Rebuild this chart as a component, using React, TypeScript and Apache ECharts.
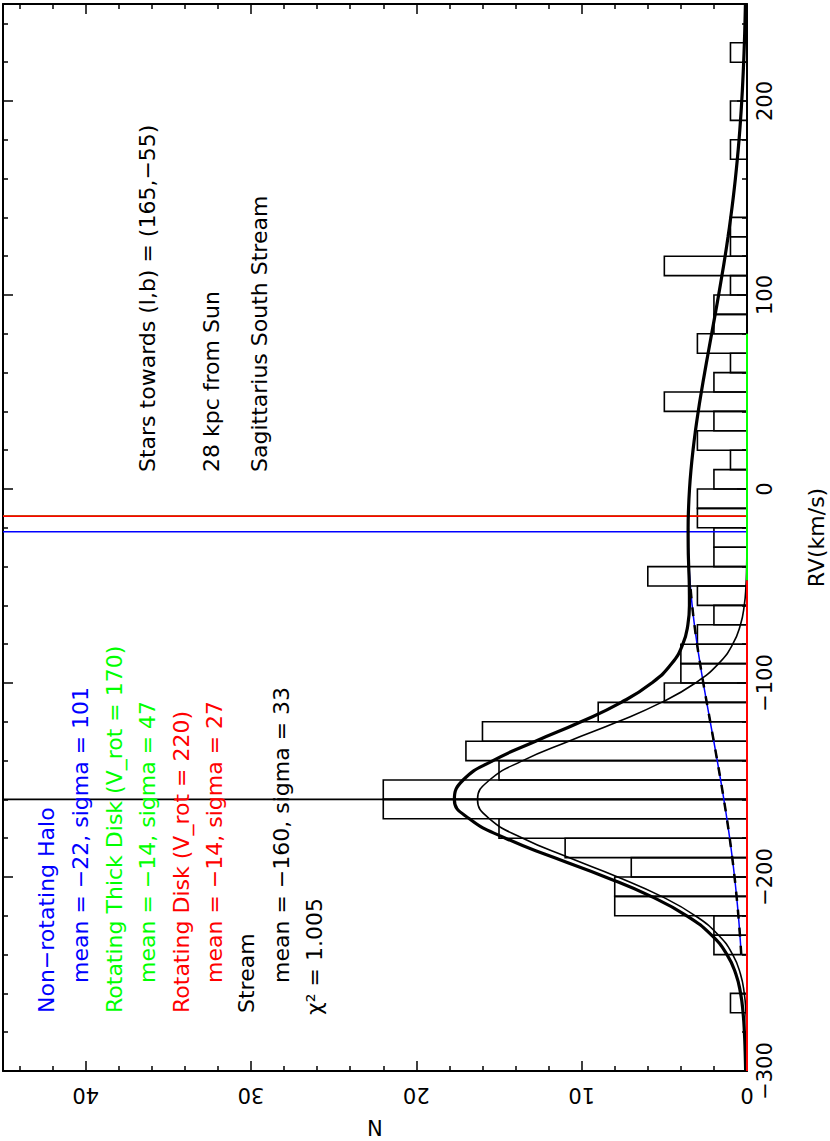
import React, { useEffect, useRef } from "react";
import * as echarts from "echarts";

// Histogram: lower edge of each 10 km/s bin, and number of stars
const binStarts = [-300, -290, -280, -270, -260, -250, -240, -230, -220, -210, -200, -190, -180, -170, -160, -150, -140, -130, -120, -110, -100, -90, -80, -70, -60, -50, -40, -30, -20, -10, 0, 10, 20, 30, 40, 50, 60, 70, 80, 90, 100, 110, 120, 130, 140, 150, 160, 170, 180, 190, 200, 210, 220, 230, 240];
const counts = [0, 0, 0, 1, 0, 0, 2, 2, 8, 8, 7, 11, 15, 22, 22, 15, 17, 16, 9, 5, 4, 4, 3, 2, 3, 6, 2, 2, 3, 3, 2, 1, 3, 2, 5, 2, 1, 3, 2, 2, 1, 5, 1, 1, 0, 0, 0, 1, 0, 1, 0, 0, 1, 0, 0];

// Model curves read at every 10 km/s
const rvGrid = [-300, -290, -280, -270, -260, -250, -240, -230, -220, -210, -200, -190, -180, -170, -160, -150, -140, -130, -120, -110, -100, -90, -80, -70, -60, -50, -40, -30, -20, -10, 0, 10, 20, 30, 40, 50, 60, 70, 80, 90, 100, 110, 120, 130, 140, 150, 160, 170, 180, 190, 200, 210, 220, 230, 240, 250];
const haloN = [0.081, 0.105, 0.136, 0.175, 0.222, 0.279, 0.347, 0.427, 0.521, 0.63, 0.753, 0.893, 1.047, 1.216, 1.4, 1.595, 1.8, 2.01, 2.223, 2.435, 2.643, 2.837, 3.019, 3.18, 3.317, 3.426, 3.504, 3.549, 3.559, 3.535, 3.477, 3.386, 3.265, 3.118, 2.949, 2.761, 2.56, 2.351, 2.138, 1.925, 1.717, 1.516, 1.325, 1.147, 0.984, 0.835, 0.702, 0.585, 0.482, 0.393, 0.318, 0.255, 0.202, 0.158, 0.123, 0.095];
const streamN = [0.002, 0.007, 0.022, 0.063, 0.165, 0.396, 0.864, 1.718, 3.121, 5.172, 7.819, 10.78, 13.56, 15.57, 16.3, 15.57, 13.56, 10.78, 7.819, 5.172, 3.121, 1.718, 0.864, 0.396, 0.165, 0.063, 0.022, 0.007, 0.002, 0, 0, 0, 0, 0, 0, 0, 0, 0, 0, 0, 0, 0, 0, 0, 0, 0, 0, 0, 0, 0, 0, 0, 0, 0, 0, 0];
const totalN = [0.083, 0.112, 0.158, 0.238, 0.387, 0.675, 1.211, 2.145, 3.642, 5.802, 8.572, 11.67, 14.61, 16.79, 17.7, 17.17, 15.36, 12.79, 10.04, 7.607, 5.764, 4.555, 3.883, 3.576, 3.482, 3.489, 3.526, 3.556, 3.561, 3.535, 3.477, 3.386, 3.265, 3.118, 2.949, 2.761, 2.56, 2.351, 2.138, 1.925, 1.717, 1.516, 1.325, 1.147, 0.984, 0.835, 0.702, 0.585, 0.482, 0.393, 0.318, 0.255, 0.202, 0.158, 0.123, 0.095];
const haloStartRV = -240;
const dashedEndRV = -50;

// Disk components (essentially zero along the whole range)
const thinDiskRV = [-300, -47];
const thickDiskRV = [-47, 80];

// Component means (drawn as lines across the plot)
const streamMean = -160;
const haloMean = -22;
const thickDiskMean = -14;
const thinDiskMean = -14;

// Axes
const nMin = 0, nMax = 45, nInterval = 10;
const rvMin = -300, rvMax = 250, rvInterval = 100;

const legendLines = [
  { text: "Non\u2212rotating Halo", color: "#0000ff" },
  { text: "mean = \u221222, sigma = 101", color: "#0000ff" },
  { text: "Rotating Thick Disk (V_rot = 170)", color: "#00ff00" },
  { text: "mean = \u221214, sigma = 47", color: "#00ff00" },
  { text: "Rotating Disk (V_rot = 220)", color: "#ff0000" },
  { text: "mean = \u221214, sigma = 27", color: "#ff0000" },
  { text: "Stream", color: "#000000" },
  { text: "mean = \u2212160, sigma = 33", color: "#000000" },
  { text: "\u03c7\u00b2 = 1.005", color: "#000000" },
];
const legendX = [46, 80, 114, 147, 181, 214, 246, 281, 314];
const legendY = [1013, 983, 1013, 983, 1013, 983, 1013, 983, 1015];

const infoLines = ["Stars towards (l,b) = (165,\u221255)", "28 kpc from Sun", "Sagittarius South Stream"];
const infoX = [147, 211, 259];
const infoY = 472;

const FONT = "DejaVu Sans";

export default function App() {
  const ref = useRef<HTMLDivElement>(null);
  useEffect(() => {
    const chart = echarts.init(ref.current!, undefined, { renderer: "svg" });
    const fmtNum = (v: number) => (v < 0 ? "\u2212" + Math.abs(v) : String(v));
    const histData = binStarts
      .map((b, i) => [b, b + 10, counts[i]])
      .filter((d) => d[2] > 0);
    const pairs = (vals: number[], from: number, to: number) =>
      rvGrid.map((rv, i) => [vals[i], rv]).filter((p) => p[1] >= from && p[1] <= to);
    const hLine = (rv: number, color: string, z: number) => ({
      type: "line",
      data: [[nMin, rv], [nMax, rv]],
      symbol: "none",
      lineStyle: { color, width: 1.6 },
      z,
      silent: true,
    });
    const axisCommon = {
      axisLine: { show: true, onZero: false, lineStyle: { color: "#000", width: 2 } },
      axisTick: { show: true, inside: true, length: 10, lineStyle: { color: "#000", width: 1.5 } },
      minorTick: { show: true, splitNumber: 5, length: 5, lineStyle: { color: "#000", width: 1.5 } },
      splitLine: { show: false },
      minorSplitLine: { show: false },
    };
    const option: any = {
      animation: false,
      backgroundColor: "#fff",
      grid: { left: 3, top: 4, right: 83, bottom: 70, containLabel: false, outerBoundsMode: "none" },
      xAxis: [
        {
          ...axisCommon,
          type: "value",
          min: nMin,
          max: nMax,
          interval: nInterval,
          inverse: true,
          position: "bottom",
          name: "N",
          nameLocation: "middle",
          nameGap: 45,
          nameRotate: 180,
          nameTextStyle: { fontFamily: FONT, fontSize: 21, color: "#000" },
          axisLabel: {
            show: true,
            rotate: 180,
            margin: 13,
            showMaxLabel: false,
            fontFamily: FONT,
            fontSize: 21,
            color: "#000",
            formatter: fmtNum,
          },
        },
        {
          ...axisCommon,
          type: "value",
          min: nMin,
          max: nMax,
          interval: nInterval,
          inverse: true,
          position: "top",
          axisLabel: { show: false },
        },
      ],
      yAxis: [
        {
          ...axisCommon,
          type: "value",
          min: rvMin,
          max: rvMax,
          interval: rvInterval,
          position: "right",
          name: "RV(km/s)",
          nameLocation: "middle",
          nameGap: 58,
          nameRotate: 90,
          nameTextStyle: { fontFamily: FONT, fontSize: 22, color: "#000" },
          axisLabel: {
            show: true,
            rotate: 90,
            margin: 7,
            showMaxLabel: false,
            fontFamily: FONT,
            fontSize: 21,
            color: "#000",
            formatter: fmtNum,
          },
        },
        {
          ...axisCommon,
          type: "value",
          min: rvMin,
          max: rvMax,
          interval: rvInterval,
          position: "left",
          axisLabel: { show: false },
        },
      ],
      series: [
        {
          type: "custom",
          data: histData,
          encode: { x: 2, y: [0, 1] },
          z: 2,
          renderItem: (params: any, api: any) => {
            const lo = api.value(0);
            const hi = api.value(1);
            const n = api.value(2);
            const p0 = api.coord([0, lo]);
            const p1 = api.coord([n, hi]);
            return {
              type: "rect",
              shape: {
                x: Math.min(p0[0], p1[0]),
                y: Math.min(p0[1], p1[1]),
                width: Math.abs(p1[0] - p0[0]),
                height: Math.abs(p1[1] - p0[1]),
              },
              style: { fill: "none", stroke: "#000", lineWidth: 1.6 },
            };
          },
        },
        hLine(streamMean, "#000000", 3),
        hLine(haloMean, "#0000ff", 3),
        hLine(thickDiskMean, "#00ff00", 3),
        hLine(thinDiskMean, "#ff0000", 4),
        {
          type: "line",
          data: pairs(haloN, haloStartRV, rvMax),
          symbol: "none",
          smooth: true,
          lineStyle: { color: "#0000ff", width: 1.5 },
          z: 5,
        },
        {
          type: "line",
          data: pairs(haloN, haloStartRV, dashedEndRV),
          symbol: "none",
          smooth: true,
          lineStyle: { color: "#000", width: 2.5, type: [9, 9] },
          z: 6,
        },
        {
          type: "line",
          data: pairs(streamN, rvMin, rvMax),
          symbol: "none",
          smooth: true,
          lineStyle: { color: "#000", width: 1.6 },
          z: 6,
        },
        {
          type: "line",
          data: pairs(totalN, rvMin, rvMax),
          symbol: "none",
          smooth: true,
          lineStyle: { color: "#000", width: 3.2 },
          z: 7,
        },
        {
          type: "line",
          data: thinDiskRV.map((rv) => [0, rv]),
          symbol: "none",
          lineStyle: { color: "#ff0000", width: 2 },
          z: 8,
        },
        {
          type: "line",
          data: thickDiskRV.map((rv) => [0, rv]),
          symbol: "none",
          lineStyle: { color: "#00ff00", width: 2 },
          z: 8,
        },
      ],
      graphic: [
        ...legendLines.map((l, i) => ({
          type: "text",
          x: legendX[i],
          y: legendY[i],
          rotation: Math.PI / 2,
          z: 20,
          style: {
            text: l.text,
            fill: l.color,
            fontFamily: FONT,
            fontSize: 22,
            align: "left",
            verticalAlign: "middle",
          },
        })),
        ...infoLines.map((t, i) => ({
          type: "text",
          x: infoX[i],
          y: infoY,
          rotation: Math.PI / 2,
          z: 20,
          style: {
            text: t,
            fill: "#000",
            fontFamily: FONT,
            fontSize: 22,
            align: "left",
            verticalAlign: "middle",
          },
        })),
      ],
    };
    chart.setOption(option);
    return () => chart.dispose();
  }, []);
  return (
    <div
      ref={ref}
      style={{ position: "absolute", left: 0, top: 0, width: 830, height: 1141, background: "#fff" }}
    />
  );
}
